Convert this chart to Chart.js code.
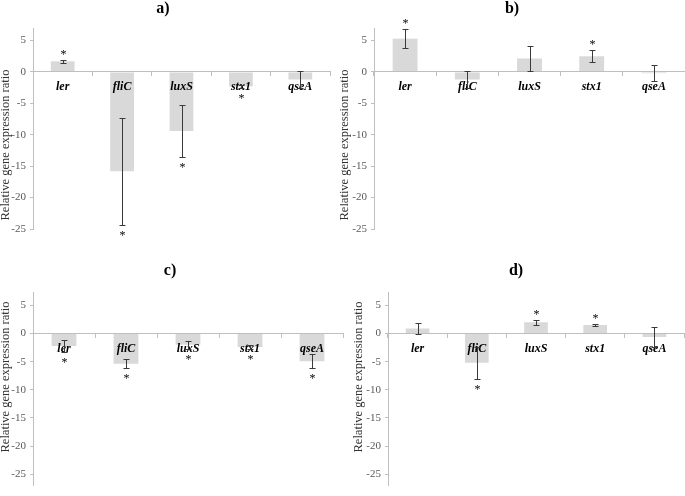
<!DOCTYPE html>
<html><head><meta charset="utf-8">
<script src="https://cdn.jsdelivr.net/npm/chart.js@4.4.1/dist/chart.umd.min.js"></script>
<style>
html,body{margin:0;padding:0;background:#fff;overflow:hidden;width:685px;height:496px;}
canvas{position:absolute;display:block;}
</style></head><body>
<canvas id="ca" width="340" height="248" style="left:0px;top:0px"></canvas>
<canvas id="cb" width="345" height="248" style="left:340px;top:0px"></canvas>
<canvas id="cc" width="345" height="248" style="left:0px;top:248px"></canvas>
<canvas id="cd" width="340" height="248" style="left:345px;top:248px"></canvas>
<script>
// ---- data ----
const genes = ['ler', 'fliC', 'luxS', 'stx1', 'qseA'];
const yTickValues = [5, 0, -5, -10, -15, -20, -25];
const panelLabels = ['a)', 'b)', 'c)', 'd)'];
const yAxisTitle = 'Relative gene expression ratio';

const valuesA = [1.7, -15.8, -9.4, -2.3, -1.2];
const errorsA = [0.25, 8.5, 4.1, 0.3, 1.3];
const sigA = [true, true, true, true, false];

const valuesB = [5.3, -1.2, 2.15, 2.5, -0.2];
const errorsB = [1.5, 1.3, 1.95, 0.95, 1.25];
const sigB = [true, false, false, true, false];

const valuesC = [-2.2, -5.35, -2.0, -2.4, -4.9];
const errorsC = [1.0, 0.85, 0.7, 0.3, 1.3];
const sigC = [true, true, true, true, true];

const valuesD = [0.9, -5.2, 2.0, 1.55, -0.6];
const errorsD = [0.95, 2.85, 0.45, 0.2, 1.7];
const sigD = [false, true, true, true, false];

// ---- drawing ----
const SERIF = '"Liberation Serif", "Times New Roman", serif';

const overlay = {
  id: 'overlay',
  afterDraw(chart, args, opts) {
    const ctx = chart.ctx;
    const meta = chart.getDatasetMeta(0);
    const ys = chart.scales.y;
    ctx.save();
    ctx.strokeStyle = '#3a3a3a';
    ctx.lineWidth = 1;
    meta.data.forEach((bar, i) => {
      const v = opts.values[i], e = opts.errors[i];
      const x = Math.round(bar.x) + 0.5;
      const yTop = Math.round(ys.getPixelForValue(v + e)) + 0.5;
      const yBot = Math.round(ys.getPixelForValue(v - e)) + 0.5;
      ctx.beginPath();
      ctx.moveTo(x, yTop); ctx.lineTo(x, yBot);
      ctx.moveTo(x - 3, yTop); ctx.lineTo(x + 3, yTop);
      ctx.moveTo(x - 3, yBot); ctx.lineTo(x + 3, yBot);
      ctx.stroke();
      if (opts.sig[i]) {
        const up = v >= 0;
        const sy = up ? yTop - 8 : yBot + 8;
        ctx.font = '12px ' + SERIF;
        ctx.fillStyle = '#000';
        ctx.textAlign = 'center';
        ctx.textBaseline = 'alphabetic';
        const m = ctx.measureText('*');
        const off = (m.actualBoundingBoxAscent - m.actualBoundingBoxDescent) / 2;
        ctx.fillText('*', x, sy + off);
      }
    });
    ctx.fillStyle = '#000';
    ctx.font = 'bold 16px ' + SERIF;
    ctx.textAlign = 'center';
    ctx.textBaseline = 'middle';
    ctx.fillText(opts.label, opts.titleX, opts.titleY);
    ctx.translate(opts.yTitleX, opts.yTitleY);
    ctx.rotate(-Math.PI / 2);
    ctx.font = '12.5px ' + SERIF;
    ctx.fillStyle = '#333';
    ctx.fillText(yAxisTitle, 0, 0);
    ctx.restore();
  }
};

function makePanel(id, label, values, errors, sig, lay) {
  new Chart(document.getElementById(id), {
    type: 'bar',
    data: {
      labels: genes,
      datasets: [{
        data: values,
        backgroundColor: '#d9d9d9',
        borderWidth: 0,
        categoryPercentage: 1.0,
        barPercentage: 0.4
      }]
    },
    options: {
      responsive: false,
      animation: false,
      layout: { padding: { left: 0, top: lay.padTop, right: lay.padRight, bottom: lay.padBottom } },
      plugins: {
        legend: { display: false },
        tooltip: { enabled: false },
        title: { display: false },
        overlay: {
          values: values, errors: errors, sig: sig, label: label,
          titleX: lay.titleX, titleY: lay.titleY,
          yTitleX: lay.yTitleX, yTitleY: lay.yTitleY
        }
      },
      scales: {
        x: {
          type: 'category',
          position: { y: 0 },
          offset: true,
          grid: { offset: true, drawOnChartArea: false, drawTicks: true, tickLength: 4, color: '#bfbfbf', z: 1 },
          border: { display: true, color: '#bfbfbf', width: 1, z: 1 },
          ticks: { color: '#000', padding: 4, maxRotation: 0, autoSkip: false, z: 1,
                   font: { family: SERIF, size: 12, weight: 'bold', style: 'italic' } }
        },
        y: {
          min: lay.yMin, max: lay.yMax,
          afterBuildTicks: (s) => { s.ticks = yTickValues.map(v => ({ value: v })); },
          afterFit: (s) => { s.width = lay.yWidth; },
          grid: { drawOnChartArea: false, drawTicks: true, tickLength: 3, color: '#bfbfbf' },
          border: { display: true, color: '#bfbfbf', width: 1 },
          ticks: { color: '#595959', padding: 4, font: { family: SERIF, size: 11 } }
        }
      }
    },
    plugins: [overlay]
  });
}

makePanel('ca', panelLabels[0], valuesA, errorsA, sigA,
  { padTop: 28, padBottom: 19, padRight: 10, yWidth: 33, yMin: -25, yMax: 7,
    titleX: 163, titleY: 9, yTitleX: 6, yTitleY: 145 });
makePanel('cb', panelLabels[1], valuesB, errorsB, sigB,
  { padTop: 28, padBottom: 19, padRight: 0, yWidth: 34, yMin: -25, yMax: 7,
    titleX: 172, titleY: 9, yTitleX: 5, yTitleY: 145 });
makePanel('cc', panelLabels[2], valuesC, errorsC, sigC,
  { padTop: 44, padBottom: 0, padRight: 2, yWidth: 33, yMin: -27, yMax: 7.4,
    titleX: 170, titleY: 23, yTitleX: 6, yTitleY: 129 });
makePanel('cd', panelLabels[3], valuesD, errorsD, sigD,
  { padTop: 44, padBottom: 1, padRight: 1, yWidth: 43, yMin: -27, yMax: 7.4,
    titleX: 171, titleY: 23, yTitleX: 14, yTitleY: 129 });
</script>
</body></html>
